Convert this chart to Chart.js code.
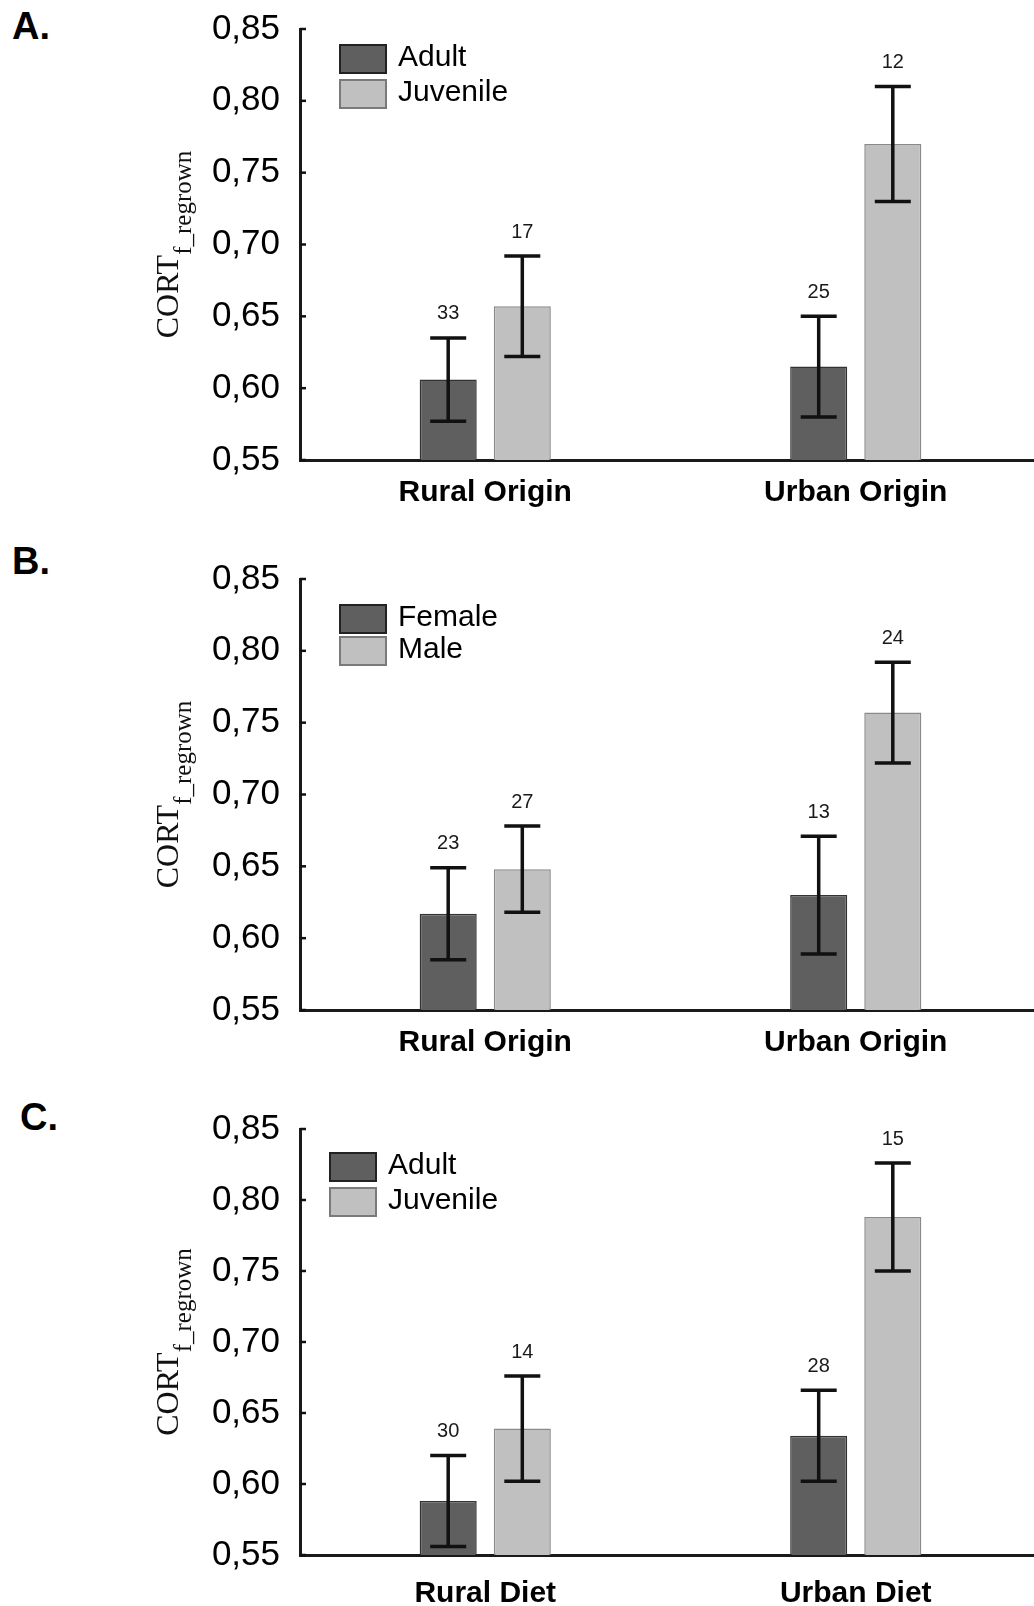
<!DOCTYPE html>
<html>
<head>
<meta charset="utf-8">
<script src="https://cdn.jsdelivr.net/npm/chart.js@4.4.1/dist/chart.umd.min.js"></script>
<style>
  html, body { margin: 0; padding: 0; background: #fff; overflow: hidden; }
  body { width: 1034px; height: 1606px; position: relative; }
  canvas { position: absolute; left: 0; }
  .panel-label { position: absolute; font: bold 38px "Liberation Sans", Arial, sans-serif; line-height: 1; color: #000; }
</style>
</head>
<body>
<div class="panel-label" style="left:12px; top:7px;">A.</div>
<div class="panel-label" style="left:12px; top:542px;">B.</div>
<div class="panel-label" style="left:20px; top:1098px;">C.</div>
<canvas id="chartA" width="1041" height="520" style="top:0px"></canvas>
<canvas id="chartB" width="1041" height="520" style="top:550px"></canvas>
<canvas id="chartC" width="1041" height="515" style="top:1100px"></canvas>
<script>
// Kategorien
const originLabels = ["Rural Origin", "Urban Origin"];
const dietLabels = ["Rural Diet", "Urban Diet"];

// Y-Achse
const yMin = 0.55;
const yMax = 0.85;
const yStep = 0.05;

// A: Alter nach Herkunft
const adultOrigin = [0.606, 0.615];
const adultOriginErr = [0.029, 0.035];
const adultOriginN = [33, 25];
const juvenileOrigin = [0.657, 0.770];
const juvenileOriginErr = [0.035, 0.040];
const juvenileOriginN = [17, 12];

// B: Geschlecht nach Herkunft
const femaleOrigin = [0.617, 0.630];
const femaleOriginErr = [0.032, 0.041];
const femaleOriginN = [23, 13];
const maleOrigin = [0.648, 0.757];
const maleOriginErr = [0.030, 0.035];
const maleOriginN = [27, 24];

// C: Alter nach Futter
const adultDiet = [0.588, 0.634];
const adultDietErr = [0.032, 0.032];
const adultDietN = [30, 28];
const juvenileDiet = [0.639, 0.788];
const juvenileDietErr = [0.037, 0.038];
const juvenileDietN = [14, 15];

const DARK = "#5f5f5f";
const LIGHT = "#c0c0c0";
const SANS = "'Liberation Sans', Arial, sans-serif";
const SERIF = "'Liberation Serif', 'Times New Roman', serif";

// Fehlerbalken, n, Legende und Achsentitel
const panelDecor = {
  id: "panelDecor",
  afterDatasetsDraw(chart, args, opts) {
    const ctx = chart.ctx;
    const y = chart.scales.y;
    const area = chart.chartArea;
    ctx.save();

    // kleine Ticks nach innen
    ctx.strokeStyle = "#111";
    ctx.lineWidth = 2.5;
    y.ticks.forEach(function (t) {
      const py = y.getPixelForValue(t.value);
      ctx.beginPath();
      ctx.moveTo(area.left, py);
      ctx.lineTo(area.left + 6, py);
      ctx.stroke();
    });

    chart.data.datasets.forEach(function (ds, di) {
      const meta = chart.getDatasetMeta(di);
      meta.data.forEach(function (bar, i) {
        const hi = y.getPixelForValue(ds.data[i] + ds.errors[i]);
        const lo = y.getPixelForValue(ds.data[i] - ds.errors[i]);
        ctx.strokeStyle = "#111";
        ctx.lineWidth = 3.5;
        ctx.beginPath();
        ctx.moveTo(bar.x, hi);
        ctx.lineTo(bar.x, lo);
        ctx.moveTo(bar.x - 18, hi);
        ctx.lineTo(bar.x + 18, hi);
        ctx.moveTo(bar.x - 18, lo);
        ctx.lineTo(bar.x + 18, lo);
        ctx.stroke();

        ctx.fillStyle = "#1a1a1a";
        ctx.font = "20px " + SANS;
        ctx.textAlign = "center";
        ctx.textBaseline = "middle";
        ctx.fillText(String(ds.counts[i]), bar.x, hi - 24);
      });

      // Legende
      const bx = area.left + opts.legendX;
      const by = area.top + opts.legendY + di * opts.legendGap;
      ctx.fillStyle = ds.backgroundColor;
      ctx.fillRect(bx, by, 46, 28);
      ctx.strokeStyle = ds.legendBorder;
      ctx.lineWidth = 2;
      ctx.strokeRect(bx, by, 46, 28);
      ctx.fillStyle = "#000";
      ctx.font = "30px " + SANS;
      ctx.textAlign = "left";
      ctx.textBaseline = "middle";
      ctx.fillText(ds.label, bx + 46 + 12, by + 13);
    });

    // Y-Titel mit Index
    const cy = (area.top + area.bottom) / 2;
    ctx.translate(178, cy);
    ctx.rotate(-Math.PI / 2);
    ctx.fillStyle = "#111";
    ctx.textAlign = "left";
    ctx.textBaseline = "alphabetic";
    ctx.font = "32px " + SERIF;
    const w1 = ctx.measureText("CORT").width;
    ctx.font = "25px " + SERIF;
    const w2 = ctx.measureText("f_regrown").width;
    const x0 = -(w1 + w2) / 2;
    ctx.font = "32px " + SERIF;
    ctx.fillText("CORT", x0, 0);
    ctx.font = "25px " + SERIF;
    ctx.fillText("f_regrown", x0 + w1, 13);

    ctx.restore();
  },
};

function makeDataset(label, values, errors, counts, color, border, legendBorder) {
  return {
    label: label,
    data: values,
    errors: errors,
    counts: counts,
    backgroundColor: color,
    borderColor: border,
    legendBorder: legendBorder,
    borderWidth: 1.5,
    categoryPercentage: 0.4,
    barPercentage: 0.77,
  };
}

function createPanel(id, labels, datasets, legendPos, labelPad) {
  const ctx = document.getElementById(id).getContext("2d");
  return new Chart(ctx, {
    type: "bar",
    data: { labels: labels, datasets: datasets },
    options: {
      responsive: false,
      animation: false,
      layout: { padding: { top: 29, left: 0, right: 0, bottom: 0 } },
      plugins: {
        legend: { display: false },
        tooltip: { enabled: false },
        panelDecor: legendPos,
      },
      scales: {
        x: {
          grid: { display: true, drawOnChartArea: false, drawTicks: false },
          border: { display: true, color: "#1a1a1a", width: 3 },
          ticks: {
            color: "#000",
            padding: labelPad,
            font: { family: SANS, size: 30, weight: "bold" },
          },
          afterFit: function (scale) {
            scale.height = 60;
          },
        },
        y: {
          min: yMin,
          max: yMax,
          grid: { display: true, drawOnChartArea: false, drawTicks: false },
          border: { display: true, color: "#1a1a1a", width: 3 },
          ticks: {
            stepSize: yStep,
            color: "#000",
            padding: 20,
            font: { family: SANS, size: 35 },
            callback: function (v) {
              return v.toFixed(2).replace(".", ",");
            },
          },
          afterFit: function (scale) {
            scale.width = 300;
            scale.paddingTop = 0;
            scale.paddingBottom = 0;
          },
        },
      },
    },
    plugins: [panelDecor],
  });
}

createPanel(
  "chartA",
  originLabels,
  [
    makeDataset("Adult", adultOrigin, adultOriginErr, adultOriginN, DARK, "#333", "#222"),
    makeDataset("Juvenile", juvenileOrigin, juvenileOriginErr, juvenileOriginN, LIGHT, "#8a8a8a", "#7a7a7a"),
  ],
  { legendX: 40, legendY: 16, legendGap: 35 },
  15
);

createPanel(
  "chartB",
  originLabels,
  [
    makeDataset("Female", femaleOrigin, femaleOriginErr, femaleOriginN, DARK, "#333", "#222"),
    makeDataset("Male", maleOrigin, maleOriginErr, maleOriginN, LIGHT, "#8a8a8a", "#7a7a7a"),
  ],
  { legendX: 40, legendY: 26, legendGap: 32 },
  15
);

createPanel(
  "chartC",
  dietLabels,
  [
    makeDataset("Adult", adultDiet, adultDietErr, adultDietN, DARK, "#333", "#222"),
    makeDataset("Juvenile", juvenileDiet, juvenileDietErr, juvenileDietN, LIGHT, "#8a8a8a", "#7a7a7a"),
  ],
  { legendX: 30, legendY: 24, legendGap: 35 },
  21
);
</script>
</body>
</html>
